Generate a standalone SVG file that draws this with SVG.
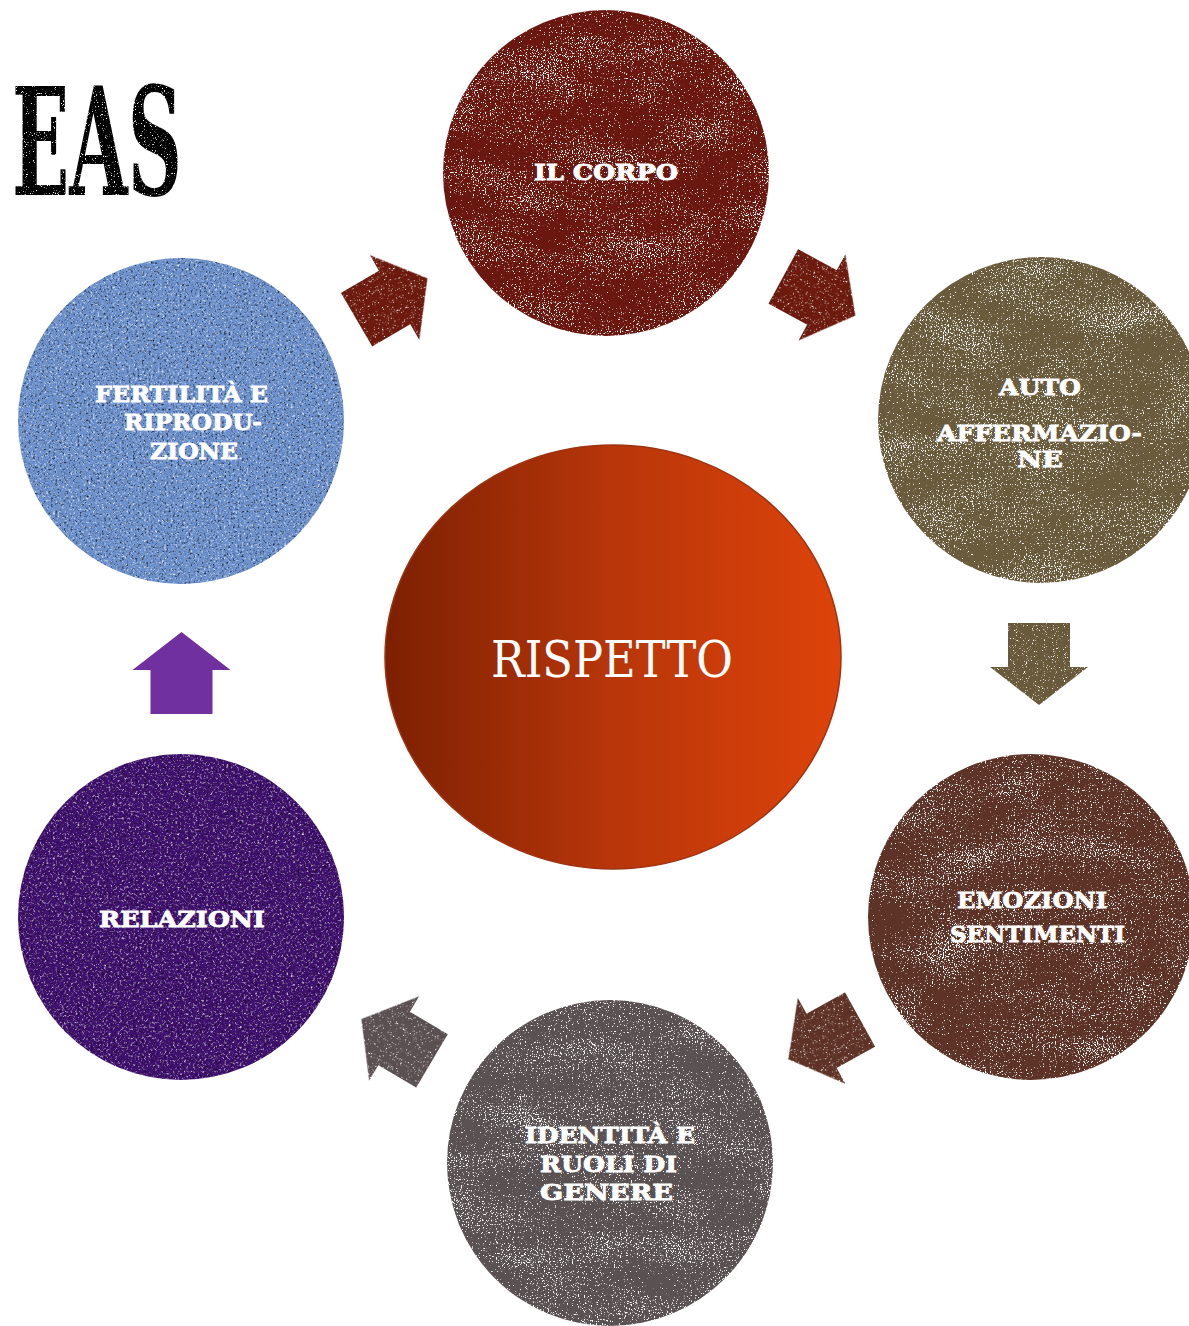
<svg xmlns="http://www.w3.org/2000/svg" width="1189" height="1326" viewBox="0 0 1189 1326">
<style>
.lbl{font-family:"DejaVu Serif","Liberation Serif",serif;font-weight:bold;font-size:23px;fill:#ffffff;stroke:#ffffff;stroke-width:0.8}
.big{font-family:"DejaVu Serif","Liberation Serif",serif;font-size:50px;fill:#ffffff}
.title{font-family:"DejaVu Serif Condensed","DejaVu Serif","Liberation Serif",serif;font-weight:bold;font-size:150px;fill:#000}
</style>
<defs>
<linearGradient id="gCenter" x1="0" y1="0" x2="1" y2="0">
<stop offset="0" stop-color="#7c2002"/>
<stop offset="0.5" stop-color="#b8360a"/>
<stop offset="1" stop-color="#de430a"/>
</linearGradient>
<filter id="grunge" x="0" y="0" width="1" height="1" color-interpolation-filters="sRGB">
<feTurbulence type="fractalNoise" baseFrequency="0.83" numOctaves="2" seed="4" result="n0"/>
<feColorMatrix in="n0" type="matrix" values="1 0 0 0 0  0 1 0 0 0  0 0 1 0 0  0 0 0 0 1" result="n"/>
<feTurbulence type="fractalNoise" baseFrequency="0.012 0.03" numOctaves="2" seed="9" result="m0"/>
<feColorMatrix in="m0" type="matrix" values="1 0 0 0 0  0 1 0 0 0  0 0 1 0 0  0 0 0 0 1" result="m"/>
<feComposite in="n" in2="m" operator="arithmetic" k2="1" k3="0.3" k4="-0.15" result="c"/>
<feColorMatrix in="c" type="matrix" values="0 0 0 0 0  0 0 0 0 0  0 0 0 0 0  10 0 0 0 -6.2" result="holes"/>
<feComposite in="SourceGraphic" in2="holes" operator="out"/>
</filter>
<filter id="grungeLight" x="0" y="0" width="1" height="1" color-interpolation-filters="sRGB">
<feTurbulence type="fractalNoise" baseFrequency="0.9" numOctaves="2" seed="2" result="n0"/>
<feColorMatrix in="n0" type="matrix" values="0 0 0 0 0  0 0 0 0 0  0 0 0 0 0  8 0 0 0 -5.1" result="holes"/>
<feComposite in="SourceGraphic" in2="holes" operator="out"/>
</filter>
<filter id="fabric" x="0" y="0" width="1" height="1" color-interpolation-filters="sRGB">
<feTurbulence type="fractalNoise" baseFrequency="0.45" numOctaves="2" seed="7" result="n"/>
<feColorMatrix in="n" type="matrix" values="0 0 0 0 1  0 0 0 0 1  0 0 0 0 1  2.5 0 0 0 -1.35" result="light"/>
<feColorMatrix in="n" type="matrix" values="0 0 0 0 0  0 0 0 0 0  0 0 0 0 0  0 -2.5 0 0 1.1" result="dark"/>
<feComposite in="light" in2="SourceGraphic" operator="in" result="l2"/>
<feComposite in="dark" in2="SourceGraphic" operator="in" result="d2"/>
<feMerge><feMergeNode in="SourceGraphic"/><feMergeNode in="l2"/><feMergeNode in="d2"/></feMerge>
</filter>
<polygon id="arrow" points="-41,-31 3,-31 3,-49 41,0 3,49 3,31 -41,31"/>
</defs>

<rect width="1189" height="1326" fill="#ffffff"/>

<g id="title">
<text class="title" x="12" y="195" textLength="170" lengthAdjust="spacingAndGlyphs" filter="url(#grungeLight)">EAS</text>
</g>

<g id="connectors">
<use href="#arrow" fill="#6b1a0d" filter="url(#grungeLight)" transform="translate(392,299) rotate(-30.3)"/>
<use href="#arrow" fill="#6b1a0d" filter="url(#grungeLight)" transform="translate(819.3,296) rotate(28.5)"/>
<use href="#arrow" fill="#6a5a3c" filter="url(#grungeLight)" transform="translate(1039,664) rotate(90)"/>
<use href="#arrow" fill="#5e3226" filter="url(#grungeLight)" transform="translate(824.2,1039.4) rotate(151)"/>
<use href="#arrow" fill="#5a5052" filter="url(#grungeLight)" transform="translate(396.7,1040) rotate(210.6)"/>
<use href="#arrow" fill="#7030a0" transform="translate(181.5,673) rotate(-90)"/>
</g>

<g id="node-rispetto">
<ellipse cx="613" cy="657" rx="228" ry="212" fill="url(#gCenter)" stroke="#9c3412" stroke-width="1.5"/>
<text class="big" x="491" y="677" textLength="242" lengthAdjust="spacingAndGlyphs">RISPETTO</text>
</g>

<g id="node-corpo">
<circle cx="606" cy="173" r="163" fill="#6a1710" filter="url(#grunge)"/>
<text class="lbl" x="534" y="180" textLength="144" lengthAdjust="spacingAndGlyphs">IL CORPO</text>
</g>

<g id="node-auto">
<circle cx="1041" cy="420" r="163" fill="#6a5b3d" filter="url(#grunge)"/>
<text class="lbl" x="999" y="395" textLength="82" lengthAdjust="spacingAndGlyphs">AUTO</text>
<text class="lbl" x="937" y="441" textLength="205" lengthAdjust="spacingAndGlyphs">AFFERMAZIO-</text>
<text class="lbl" x="1017" y="467" textLength="46" lengthAdjust="spacingAndGlyphs">NE</text>
</g>

<g id="node-emozioni">
<circle cx="1031" cy="917" r="163" fill="#5d3327" filter="url(#grunge)"/>
<text class="lbl" x="957" y="908" textLength="150" lengthAdjust="spacingAndGlyphs">EMOZIONI</text>
<text class="lbl" x="950" y="942" textLength="175" lengthAdjust="spacingAndGlyphs">SENTIMENTI</text>
</g>

<g id="node-identita">
<circle cx="610" cy="1163" r="163" fill="#5a5153" filter="url(#grunge)"/>
<text class="lbl" x="525" y="1143" textLength="170" lengthAdjust="spacingAndGlyphs">IDENTITÀ E</text>
<text class="lbl" x="540" y="1172" textLength="137" lengthAdjust="spacingAndGlyphs">RUOLI DI</text>
<text class="lbl" x="540" y="1200" textLength="133" lengthAdjust="spacingAndGlyphs">GENERE</text>
</g>

<g id="node-relazioni">
<circle cx="181" cy="917" r="163" fill="#40106e" filter="url(#fabric)"/>
<text class="lbl" x="99" y="927" textLength="166" lengthAdjust="spacingAndGlyphs">RELAZIONI</text>
</g>

<g id="node-fertilita">
<circle cx="181" cy="421" r="163" fill="#6b90cc" filter="url(#fabric)"/>
<text class="lbl" x="95" y="402" textLength="173" lengthAdjust="spacingAndGlyphs">FERTILITÀ E</text>
<text class="lbl" x="124" y="430" textLength="138" lengthAdjust="spacingAndGlyphs">RIPRODU-</text>
<text class="lbl" x="150" y="459" textLength="88" lengthAdjust="spacingAndGlyphs">ZIONE</text>
</g>
</svg>
